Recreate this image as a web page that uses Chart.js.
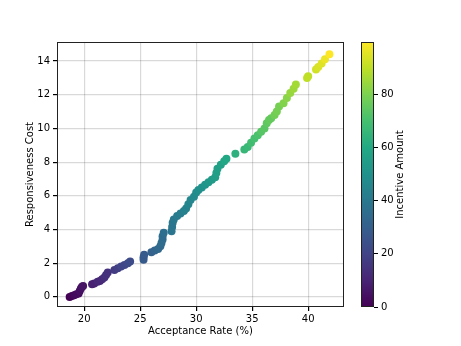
<!DOCTYPE html>
<html>
<head>
<meta charset="utf-8">
<script src="https://cdn.jsdelivr.net/npm/chart.js@4"></script>
<style>
  html, body { margin: 0; padding: 0; background: #fff; }
  #wrap { position: relative; width: 461px; height: 346px; }
  #main { position: absolute; left: 0; top: 0; }
  #cbar { position: absolute; left: 340px; top: 0; }
</style>
</head>
<body>
<div id="wrap">
  <canvas id="main" width="461" height="346"></canvas>
  <canvas id="cbar" width="121" height="346"></canvas>
</div>
<script>
	/** 데이터 **/
	let acceptanceRate = [18.7, 18.9, 19.1, 19.3, 19.5, 19.6, 19.7, 19.8, 19.9,
		20.7, 20.9, 21.2, 21.4, 21.6, 21.8, 21.95, 22.1,
		22.7, 23.0, 23.3, 23.6, 23.9, 24.1,
		25.3, 25.3, 25.35,
		26.0, 26.3, 26.6, 26.8, 26.9, 27.0, 27.0, 27.1,
		27.8, 27.85, 27.9, 28.0, 28.3, 28.6, 28.9, 29.1, 29.3, 29.5, 29.8,
		30.0, 30.2, 30.5, 30.8, 31.1, 31.4, 31.7, 31.8, 31.9, 32.2, 32.5, 32.7,
		33.5, 34.3, 34.6, 34.9, 35.2, 35.5, 35.8, 36.1, 36.3, 36.5, 36.7,
		37.0, 37.2, 37.4, 37.8, 38.1, 38.4, 38.7, 38.9,
		39.9, 40.0, 40.7, 40.9, 41.2, 41.5, 41.9];
	let responsivenessCost = [0.0, 0.05, 0.1, 0.15, 0.2, 0.35, 0.5, 0.6, 0.65,
		0.75, 0.8, 0.9, 0.95, 1.05, 1.15, 1.3, 1.45,
		1.6, 1.7, 1.8, 1.9, 2.0, 2.1,
		2.2, 2.35, 2.5,
		2.65, 2.75, 2.85, 3.0, 3.2, 3.4, 3.6, 3.8,
		3.9, 4.15, 4.4, 4.6, 4.8, 4.95, 5.1, 5.25, 5.5, 5.75, 5.95,
		6.2, 6.35, 6.5, 6.65, 6.8, 6.95, 7.1, 7.35, 7.6, 7.85, 8.05, 8.2,
		8.5, 8.75, 8.9, 9.15, 9.4, 9.6, 9.8, 10.0, 10.3, 10.5, 10.6,
		10.8, 11.0, 11.3, 11.5, 11.8, 12.1, 12.35, 12.6,
		13.0, 13.1, 13.5, 13.65, 13.85, 14.1, 14.4];
	let incentiveAmount = [0, 1, 2, 3, 3, 4, 4, 5, 5,
		9, 9, 11, 11, 12, 13, 14, 14,
		17, 18, 20, 21, 22, 23,
		28, 28, 28,
		31, 32, 34, 34, 35, 35, 35, 36,
		39, 39, 39, 40, 41, 42, 43, 44, 45, 46, 47,
		48, 49, 50, 51, 53, 54, 55, 56, 56, 57, 59, 60,
		63, 66, 67, 69, 70, 71, 73, 74, 75, 76, 76,
		78, 79, 79, 81, 82, 84, 85, 86,
		90, 90, 93, 94, 95, 97, 99.8];
	let xTicks = [20, 25, 30, 35, 40];
	let yTicks = [0, 2, 4, 6, 8, 10, 12, 14];
	let cbarTicks = [0, 20, 40, 60, 80];

	/** viridis 컬러맵 **/
	let viridis = ['#440154', '#482475', '#414487', '#355f8d', '#2a788e', '#21918c',
		'#22a884', '#44bf70', '#7ad151', '#bddf26', '#fde725'];
	function hexRgb(h) {
		return [parseInt(h.substr(1, 2), 16), parseInt(h.substr(3, 2), 16), parseInt(h.substr(5, 2), 16)];
	}
	function viridisColor(t) {
		t = Math.max(0, Math.min(1, t));
		let p = t * (viridis.length - 1);
		let i = Math.min(Math.floor(p), viridis.length - 2);
		let f = p - i;
		let a = hexRgb(viridis[i]), b = hexRgb(viridis[i + 1]);
		let c = a.map((v, k) => Math.round(v + (b[k] - v) * f));
		return 'rgb(' + c.join(',') + ')';
	}

	let cMin = Math.min(...incentiveAmount);
	let cMax = Math.max(...incentiveAmount);
	let pointColors = incentiveAmount.map(v => viridisColor((v - cMin) / (cMax - cMin)));

	/** 공통 부분 **/
	let fontFamily = "'DejaVu Sans', sans-serif";
	let tickFont = {family: fontFamily, size: 10};
	let gridColor = 'rgba(0, 0, 0, 0.15)';

	let frame = {
		id: 'frame',
		afterDatasetsDraw(chart) {
			let a = chart.chartArea, ctx = chart.ctx;
			ctx.save();
			ctx.strokeStyle = '#222';
			ctx.lineWidth = 1;
			ctx.strokeRect(Math.round(a.left) + 0.5, Math.round(a.top) + 0.5,
				Math.round(a.right - a.left) - 1, Math.round(a.bottom - a.top) - 1);
			ctx.restore();
		}
	};

	/** 산점도 **/
	let scatterChart = new Chart(document.getElementById('main'), {
		type: 'scatter',
		data: {
			datasets: [{
				data: acceptanceRate.map((x, i) => ({x: x, y: responsivenessCost[i]})),
				pointRadius: 4,
				pointHoverRadius: 4,
				pointBorderWidth: 0,
				pointBackgroundColor: pointColors,
				pointBorderColor: pointColors,
			}]
		},
		options: {
			responsive: false,
			animation: false,
			events: [],
			layout: {padding: {left: 0, top: 42, right: 117, bottom: 0}},
			plugins: {legend: {display: false}, tooltip: {enabled: false}},
			scales: {
				x: {
					type: 'linear',
					min: 17.57,
					max: 43.2,
					afterFit: s => { s.height = 39; },
					afterBuildTicks: s => { s.ticks = xTicks.map(v => ({value: v})); },
					grid: {color: gridColor, lineWidth: 1.2, tickColor: '#000', tickLength: 4},
					border: {display: false},
					ticks: {color: '#000', font: tickFont, padding: 2, maxRotation: 0},
					title: {display: true, text: 'Acceptance Rate (%)', color: '#000', font: tickFont, padding: {top: 0, bottom: 9}}
				},
				y: {
					type: 'linear',
					min: -0.6,
					max: 15.13,
					afterFit: s => { s.width = 57; },
					afterBuildTicks: s => { s.ticks = yTicks.map(v => ({value: v})); },
					grid: {color: gridColor, lineWidth: 1.2, tickColor: '#000', tickLength: 4},
					border: {display: false},
					ticks: {color: '#000', font: tickFont, padding: 3},
					title: {display: true, text: 'Responsiveness Cost', color: '#000', font: tickFont, padding: {top: 24, bottom: 0}}
				}
			}
		},
		plugins: [frame]
	});

	/** 컬러바 **/
	let colorbarFill = {
		id: 'colorbarFill',
		beforeDatasetsDraw(chart) {
			let a = chart.chartArea, ctx = chart.ctx;
			let g = ctx.createLinearGradient(0, a.bottom, 0, a.top);
			viridis.forEach((c, i) => g.addColorStop(i / (viridis.length - 1), c));
			ctx.save();
			ctx.fillStyle = g;
			ctx.fillRect(a.left, a.top, a.right - a.left, a.bottom - a.top);
			ctx.restore();
		},
		afterDraw(chart) {
			let a = chart.chartArea, ctx = chart.ctx;
			ctx.save();
			ctx.translate(60, (a.top + a.bottom) / 2);
			ctx.rotate(-Math.PI / 2);
			ctx.fillStyle = '#000';
			ctx.font = "10px 'DejaVu Sans', sans-serif";
			ctx.textAlign = 'center';
			ctx.textBaseline = 'middle';
			ctx.fillText('Incentive Amount', 0, 0);
			ctx.restore();
		}
	};

	let colorbarChart = new Chart(document.getElementById('cbar'), {
		type: 'scatter',
		data: {datasets: [{data: []}]},
		options: {
			responsive: false,
			animation: false,
			events: [],
			layout: {padding: {left: 21, top: 42, right: 0, bottom: 39}},
			plugins: {legend: {display: false}, tooltip: {enabled: false}},
			scales: {
				x: {type: 'linear', display: false, min: 0, max: 1},
				y: {
					type: 'linear',
					position: 'right',
					min: cMin,
					max: cMax,
					afterFit: s => { s.width = 87; },
					afterBuildTicks: s => { s.ticks = cbarTicks.map(v => ({value: v})); },
					grid: {drawOnChartArea: false, tickColor: '#000', tickLength: 4},
					border: {display: false},
					ticks: {color: '#000', font: tickFont, padding: 3}
				}
			}
		},
		plugins: [colorbarFill, frame]
	});
</script>
</body>
</html>
